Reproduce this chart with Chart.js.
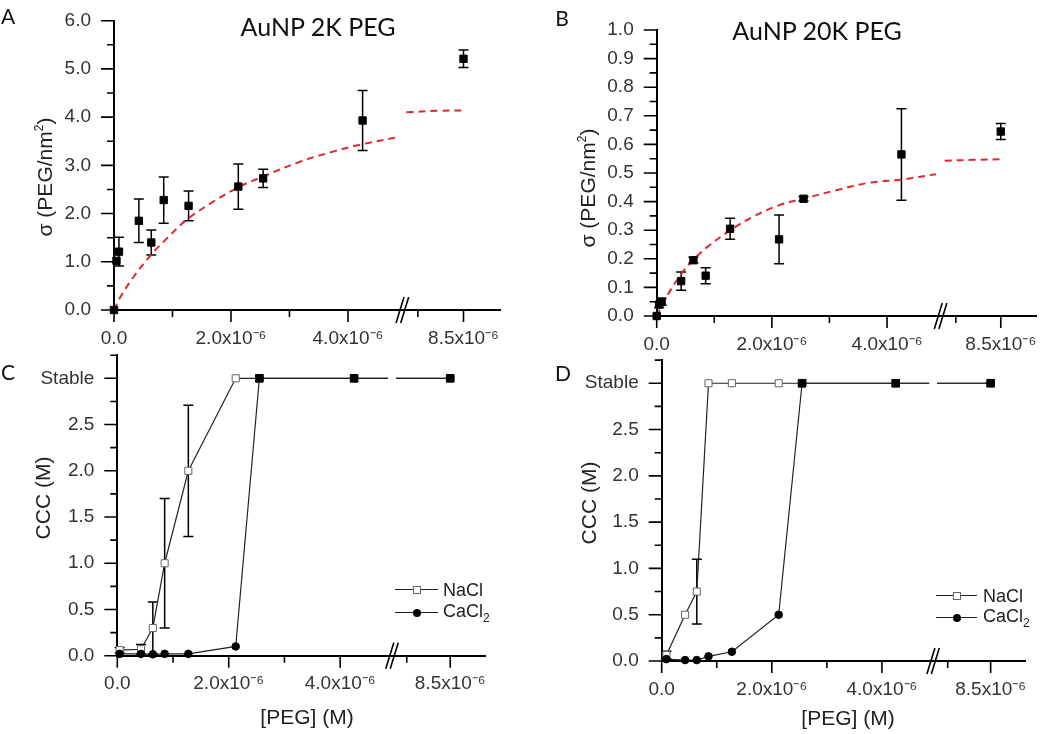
<!DOCTYPE html>
<html>
<head>
<meta charset="utf-8">
<script src="https://cdn.jsdelivr.net/npm/chart.js@4.4.1/dist/chart.umd.min.js"></script>
<style>
  body { margin: 0; background: #fff; }
  #wrap { position: relative; width: 1050px; height: 734px; overflow: hidden; font-family: "Liberation Sans", Arial, sans-serif; color: #222; }
  canvas { position: absolute; left: 0; top: 0; }
  .t { position: absolute; white-space: nowrap; line-height: 1; transform: translate(-50%, -50%); }
  .rot { transform: translate(-50%, -50%) rotate(-90deg); }
  .letter { font-family: Lato, "Open Sans", sans-serif; font-size: 21px; color: #111; }
  .title { font-family: Lato, "Open Sans", sans-serif; font-size: 25px; color: #111; }
  .axt { font-size: 21px; }
  .axt sup { font-size: 12px; vertical-align: 9px; }
  .leg { position: absolute; font-size: 18px; line-height: 1; transform: translateY(-50%); white-space: nowrap; }
  .leg sub { font-size: 12px; vertical-align: -5px; }
  .lline { position: absolute; height: 1.3px; background: #222; }
  .mk { position: absolute; box-sizing: border-box; transform: translate(-50%, -50%); }
  .mk.sq { width: 8px; height: 8px; border: 1px solid #666; background: #fff; }
  .mk.ci { width: 8px; height: 8px; border-radius: 50%; background: #000; }
</style>
</head>
<body>
<div id="wrap">
  <canvas id="cA" width="1050" height="734"></canvas>
  <canvas id="cB" width="1050" height="734"></canvas>
  <canvas id="cC" width="1050" height="734"></canvas>
  <canvas id="cD" width="1050" height="734"></canvas>

  <div class="t letter" style="left:8px;top:15px">A</div>
  <div class="t letter" style="left:562px;top:17px">B</div>
  <div class="t letter" style="left:8px;top:371px">C</div>
  <div class="t letter" style="left:563px;top:372px">D</div>

  <div class="t title" style="left:318px;top:26px">AuNP 2K PEG</div>
  <div class="t title" style="left:817px;top:30px">AuNP 20K PEG</div>

  <div class="t axt rot" style="left:44px;top:177px">σ (PEG/nm<sup>2</sup>)</div>
  <div class="t axt rot" style="left:587px;top:188px">σ (PEG/nm<sup>2</sup>)</div>
  <div class="t axt rot" style="left:42px;top:498px">CCC (M)</div>
  <div class="t axt rot" style="left:588px;top:503px">CCC (M)</div>
  <div class="t axt" style="left:307px;top:716px">[PEG] (M)</div>
  <div class="t axt" style="left:848px;top:717px">[PEG] (M)</div>

  <div class="lline" style="left:395px;top:589px;width:43px"></div>
  <div class="mk sq" style="left:417px;top:590px"></div>
  <div class="leg" style="left:443px;top:590px">NaCl</div>
  <div class="lline" style="left:395px;top:612px;width:43px"></div>
  <div class="mk ci" style="left:417px;top:613px"></div>
  <div class="leg" style="left:443px;top:613px">CaCl<sub>2</sub></div>

  <div class="lline" style="left:936px;top:595px;width:41px"></div>
  <div class="mk sq" style="left:957px;top:596px"></div>
  <div class="leg" style="left:983px;top:596px">NaCl</div>
  <div class="lline" style="left:936px;top:617px;width:41px"></div>
  <div class="mk ci" style="left:957px;top:618px"></div>
  <div class="leg" style="left:983px;top:618px">CaCl<sub>2</sub></div>
</div>

<script>
// [PEG] values are in units of 1e-6 M
const pegAB = [0, 0.0425, 0.085, 0.425, 0.6375, 0.85, 1.275, 2.125, 2.55, 4.25, 8.5];
const sigmaA = [0, 1.02, 1.21, 1.85, 1.40, 2.28, 2.16, 2.56, 2.73, 3.93, 5.21];
const sigmaErrA = [0, 0, 0.30, 0.45, 0.26, 0.48, 0.31, 0.47, 0.19, 0.62, 0.18];
const sigmaB = [0, 0.04, 0.05, 0.122, 0.195, 0.141, 0.305, 0.268, 0.41, 0.565, 0.645];
const sigmaErrB = [0, 0.01, 0.012, 0.032, 0.01, 0.028, 0.037, 0.085, 0.008, 0.16, 0.028];

// fitted curves (dashed red), null = axis break
const fitPegA = [0, 0.1, 0.33, 0.63, 0.9, 1.25, 1.7, 2.13, 2.55, 3.19, 3.76, 4.25, 4.87, 5.0, 7.25, 7.9, 8.55];
const fitA = [0, 0.25, 0.68, 1.14, 1.48, 1.88, 2.25, 2.55, 2.77, 3.08, 3.29, 3.44, 3.59, null, 4.10, 4.13, 4.14];
const fitPegB = [0, 0.17, 0.43, 0.63, 0.87, 1.28, 1.67, 2.12, 2.55, 3.12, 3.69, 4.25, 4.85, 5.0, 7.25, 7.9, 8.55];
const fitB = [0, 0.067, 0.148, 0.195, 0.24, 0.30, 0.347, 0.387, 0.41, 0.44, 0.466, 0.477, 0.496, null, 0.543, 0.546, 0.548];

// CCC, 3.0 = "Stable"
const pegC = [0.0425, 0.425, 0.6375, 0.85, 1.275, 2.125, 2.55, 4.25, 8.5];
const naclC = [0.06, 0.07, 0.30, 1.0, 2.0, 3, 3, 3, 3];
const naclErrC = [0.03, 0.05, 0.28, 0.70, 0.71, 0, 0, 0, 0];
const cacl2C = [0.02, 0.02, 0.015, 0.02, 0.02, 0.10, 3, 3, 3];
const pegD = [0.085, 0.425, 0.6375, 0.85, 1.275, 2.125, 2.55, 4.25, 8.5];
const naclD = [0.065, 0.5, 0.75, 3, 3, 3, 3, 3, 3];
const naclErrD = [0.04, 0, 0.35, 0, 0, 0, 0, 0, 0];
const cacl2D = [0.02, 0.01, 0.01, 0.05, 0.10, 0.50, 3, 3, 3];

// tick labels
const xMajor = [0, 2, 4, 8.5];
const xLabels = ['0.0', '2.0x10⁻⁶', '4.0x10⁻⁶', '8.5x10⁻⁶'];
const xMinor = [1, 3, 7.5];
const yMajorA = [0, 1, 2, 3, 4, 5, 6];
const yLabelsA = ['0.0', '1.0', '2.0', '3.0', '4.0', '5.0', '6.0'];
const yMinorA = [0.5, 1.5, 2.5, 3.5, 4.5, 5.5];
const yMajorB = [0, 0.1, 0.2, 0.3, 0.4, 0.5, 0.6, 0.7, 0.8, 0.9, 1.0];
const yLabelsB = ['0.0', '0.1', '0.2', '0.3', '0.4', '0.5', '0.6', '0.7', '0.8', '0.9', '1.0'];
const yMinorB = [0.05, 0.15, 0.25, 0.35, 0.45, 0.55, 0.65, 0.75, 0.85, 0.95];
const yMajorCD = [0, 0.5, 1.0, 1.5, 2.0, 2.5, 3.0];
const yLabelsCD = ['0.0', '0.5', '1.0', '1.5', '2.0', '2.5', 'Stable'];
const yMinorCD = [0.25, 0.75, 1.25, 1.75, 2.25, 2.75, 3.25];

// broken x axis: 0..5 shown as is, then a gap, then 7.25.. compressed
function brokenToDisplay(v) {
  return v <= 5 ? v : 5 + (v - 7.25) * 0.78;
}
function displayToBroken(d) {
  return d <= 5 ? d : 7.25 + (d - 5) / 0.78;
}
class BrokenLinearScale extends Chart.LinearScale {
  static id = 'brokenLinear';
  static defaults = Chart.LinearScale.defaults;
  getPixelForValue(value) {
    if (value === null || value === undefined) return NaN;
    const d0 = brokenToDisplay(this.min), d1 = brokenToDisplay(this.max);
    return this.getPixelForDecimal((brokenToDisplay(value) - d0) / (d1 - d0));
  }
  getValueForPixel(pixel) {
    const d0 = brokenToDisplay(this.min), d1 = brokenToDisplay(this.max);
    return displayToBroken(d0 + this.getDecimalForPixel(pixel) * (d1 - d0));
  }
}
Chart.register(BrokenLinearScale);

const tickFont = { family: '"Liberation Sans", Arial, sans-serif', size: 19 };

const decoPlugin = {
  id: 'deco',
  beforeDatasetsDraw(chart, args, opts) {
    const ctx = chart.ctx, xs = chart.scales.x, ys = chart.scales.y;
    ctx.save();
    ctx.strokeStyle = '#000';
    ctx.lineWidth = 1.5;
    (opts.errors || []).forEach(e => {
      e.x.forEach((xv, i) => {
        const err = e.err[i];
        if (!err) return;
        const px = xs.getPixelForValue(xv);
        const top = ys.getPixelForValue(e.y[i] + err);
        const bot = ys.getPixelForValue(Math.max(e.y[i] - err, 0));
        ctx.beginPath();
        ctx.moveTo(px, top); ctx.lineTo(px, bot);
        ctx.moveTo(px - 5, top); ctx.lineTo(px + 5, top);
        if (e.y[i] - err > 0) { ctx.moveTo(px - 5, bot); ctx.lineTo(px + 5, bot); }
        ctx.stroke();
      });
    });
    ctx.restore();
  },
  afterDatasetsDraw(chart, args, opts) {
    const ctx = chart.ctx, xs = chart.scales.x, ys = chart.scales.y;
    const area = chart.chartArea;
    ctx.save();
    if (opts.band) {
      const l = xs.getPixelForValue(4.86), r = xs.getPixelForValue(7.25);
      ctx.fillStyle = '#fff';
      ctx.fillRect(l, area.top - 8, r - l, area.bottom - area.top + 6);
    }
    // outward ticks, long for majors, short for minors
    ctx.strokeStyle = '#000';
    ctx.lineWidth = 1.6;
    ctx.beginPath();
    xMajor.forEach(v => { const p = xs.getPixelForValue(v); ctx.moveTo(p, area.bottom); ctx.lineTo(p, area.bottom + 12); });
    xMinor.forEach(v => { const p = xs.getPixelForValue(v); ctx.moveTo(p, area.bottom); ctx.lineTo(p, area.bottom + 7); });
    opts.yMajor.forEach(v => { const p = ys.getPixelForValue(v); ctx.moveTo(area.left, p); ctx.lineTo(area.left - 13, p); });
    opts.yMinor.forEach(v => { const p = ys.getPixelForValue(v); ctx.moveTo(area.left, p); ctx.lineTo(area.left - 7, p); });
    ctx.stroke();
    // axis break marks
    ctx.lineWidth = 1.6;
    ctx.beginPath();
    [4.89, 4.97].forEach(v => {
      const p = xs.getPixelForValue(v);
      ctx.moveTo(p - 4, area.bottom + 13);
      ctx.lineTo(p + 4, area.bottom - 13);
    });
    ctx.stroke();
    ctx.restore();
  }
};

function makePanel(id, area, yMax, yMajor, yLabels, yMinor, datasets, deco) {
  return new Chart(document.getElementById(id), {
    type: 'line',
    data: { datasets: datasets },
    options: {
      responsive: false,
      animation: false,
      events: [],
      layout: { padding: { left: area.left - 100, right: 1050 - area.right, top: area.top, bottom: 734 - area.bottom - 40 } },
      plugins: { legend: { display: false }, tooltip: { enabled: false }, deco: Object.assign({ yMajor: yMajor, yMinor: yMinor }, deco) },
      scales: {
        x: {
          type: 'brokenLinear', min: 0, max: 9.3,
          afterBuildTicks: s => { s.ticks = xMajor.concat(xMinor).map(v => ({ value: v })); },
          afterFit: s => { s.height = 40; s.paddingLeft = 0; s.paddingRight = 0; },
          grid: { color: 'rgba(0,0,0,0)', drawOnChartArea: false, tickLength: 12 },
          border: { color: '#000', width: 2 },
          ticks: { autoSkip: false, maxRotation: 0, padding: 5, color: '#333', font: tickFont,
            callback: v => { const i = xMajor.indexOf(v); return i < 0 ? '' : xLabels[i]; } }
        },
        y: {
          type: 'linear', min: 0, max: yMax,
          afterBuildTicks: s => { s.ticks = yMajor.concat(yMinor).map(v => ({ value: v })); },
          afterFit: s => { s.width = 100; s.paddingTop = 0; s.paddingBottom = 0; },
          grid: { color: 'rgba(0,0,0,0)', drawOnChartArea: false, tickLength: 13 },
          border: { color: '#000', width: 2 },
          ticks: { autoSkip: false, padding: 10, color: '#333', font: tickFont,
            callback: v => { const i = yMajor.indexOf(v); return i < 0 ? '' : yLabels[i]; } }
        }
      }
    },
    plugins: [decoPlugin]
  });
}

function pts(xs, ys) { return xs.map((x, i) => ({ x: x, y: ys[i] })); }

const sigmaStyle = { showLine: false, pointStyle: 'rect', pointRadius: 5.2, backgroundColor: '#000', borderColor: '#000', borderWidth: 1, clip: false };
const fitStyle = { borderColor: '#e3262b', borderWidth: 2, borderDash: [7, 5], pointRadius: 0, tension: 0.35, spanGaps: false, fill: false };

makePanel('cA', { left: 114, right: 500, top: 20.7, bottom: 310 }, 6, yMajorA, yLabelsA, yMinorA, [
  Object.assign({ data: pts(pegAB, sigmaA) }, sigmaStyle),
  Object.assign({ data: pts(fitPegA, fitA) }, fitStyle)
], { errors: [{ x: pegAB, y: sigmaA, err: sigmaErrA }] });

makePanel('cB', { left: 656.7, right: 1036.7, top: 30, bottom: 316 }, 1, yMajorB, yLabelsB, yMinorB, [
  Object.assign({ data: pts(pegAB, sigmaB) }, sigmaStyle),
  Object.assign({ data: pts(fitPegB, fitB) }, fitStyle)
], { errors: [{ x: pegAB, y: sigmaB, err: sigmaErrB }] });

// CaCl2 first so it is drawn on top; stable points show as filled squares
function cccSets(peg, nacl, cacl2) {
  return [
    { data: pts(peg, cacl2), borderColor: '#222', borderWidth: 1.2, tension: 0, clip: false,
      pointStyle: c => cacl2[c.dataIndex] === 3 ? 'rect' : 'circle',
      pointRadius: c => cacl2[c.dataIndex] === 3 ? 5.4 : 3.8,
      pointBackgroundColor: '#000', pointBorderColor: '#000', pointBorderWidth: 1 },
    { data: pts(peg, nacl), borderColor: '#222', borderWidth: 1.2, pointStyle: 'rect', pointRadius: 5,
      pointBackgroundColor: '#fff', pointBorderColor: '#666', pointBorderWidth: 1, tension: 0, clip: false }
  ];
}

makePanel('cC', { left: 117.3, right: 485, top: 355.2, bottom: 655.7 }, 3.25, yMajorCD, yLabelsCD, yMinorCD,
  cccSets(pegC, naclC, cacl2C), { band: true, errors: [{ x: pegC, y: naclC, err: naclErrC }] });

makePanel('cD', { left: 661.7, right: 1025, top: 360.1, bottom: 661 }, 3.25, yMajorCD, yLabelsCD, yMinorCD,
  cccSets(pegD, naclD, cacl2D), { band: true, errors: [{ x: pegD, y: naclD, err: naclErrD }] });
</script>
</body>
</html>
